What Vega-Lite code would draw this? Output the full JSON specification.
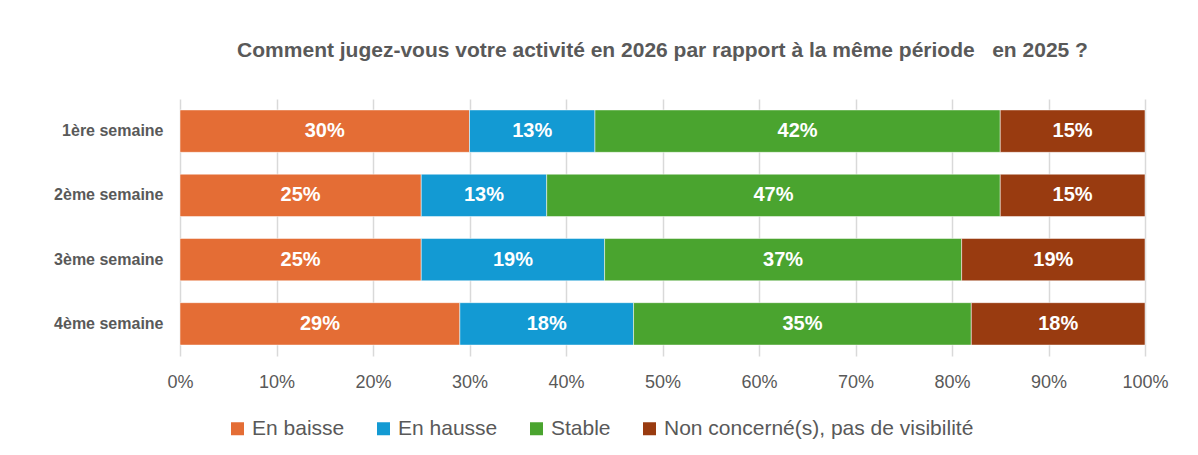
{
  "$schema": "https://vega.github.io/schema/vega-lite/v6.json",
  "autosize": "none",
  "width": 965,
  "height": 257,
  "padding": {"left": 180, "top": 99, "right": 53, "bottom": 99},
  "background": "white",
  "title": {
    "text": "Comment jugez-vous votre activité en 2026 par rapport à la même période\u00a0\u00a0\u00a0en 2025 ?",
    "fontSize": 21,
    "font": "Liberation Sans",
    "fontWeight": "bold",
    "color": "#595959",
    "anchor": "middle",
    "offset": 38
  },
  "data": {
    "values": [
      {"semaine": "1ère semaine", "reponse": "En baisse", "ordre": 1, "pct": 30},
      {"semaine": "1ère semaine", "reponse": "En hausse", "ordre": 2, "pct": 13},
      {"semaine": "1ère semaine", "reponse": "Stable", "ordre": 3, "pct": 42},
      {"semaine": "1ère semaine", "reponse": "Non concerné(s), pas de visibilité", "ordre": 4, "pct": 15},
      {"semaine": "2ème semaine", "reponse": "En baisse", "ordre": 1, "pct": 25},
      {"semaine": "2ème semaine", "reponse": "En hausse", "ordre": 2, "pct": 13},
      {"semaine": "2ème semaine", "reponse": "Stable", "ordre": 3, "pct": 47},
      {"semaine": "2ème semaine", "reponse": "Non concerné(s), pas de visibilité", "ordre": 4, "pct": 15},
      {"semaine": "3ème semaine", "reponse": "En baisse", "ordre": 1, "pct": 25},
      {"semaine": "3ème semaine", "reponse": "En hausse", "ordre": 2, "pct": 19},
      {"semaine": "3ème semaine", "reponse": "Stable", "ordre": 3, "pct": 37},
      {"semaine": "3ème semaine", "reponse": "Non concerné(s), pas de visibilité", "ordre": 4, "pct": 19},
      {"semaine": "4ème semaine", "reponse": "En baisse", "ordre": 1, "pct": 29},
      {"semaine": "4ème semaine", "reponse": "En hausse", "ordre": 2, "pct": 18},
      {"semaine": "4ème semaine", "reponse": "Stable", "ordre": 3, "pct": 35},
      {"semaine": "4ème semaine", "reponse": "Non concerné(s), pas de visibilité", "ordre": 4, "pct": 18}
    ]
  },
  "transform": [
    {"stack": "pct", "groupby": ["semaine"], "sort": [{"field": "ordre", "order": "ascending"}], "as": ["debut", "fin"]},
    {"calculate": "(datum.debut + datum.fin) / 2", "as": "milieu"},
    {"calculate": "datum.pct + '%'", "as": "etiquette"}
  ],
  "config": {
    "view": {"stroke": null},
    "font": "Liberation Sans"
  },
  "encoding": {
    "y": {
      "field": "semaine",
      "type": "nominal",
      "sort": ["1ère semaine", "2ème semaine", "3ème semaine", "4ème semaine"],
      "scale": {"paddingInner": 0.34, "paddingOuter": 0.17},
      "axis": {
        "title": null,
        "domain": false,
        "ticks": false,
        "labelFontSize": 16,
        "labelFontWeight": "bold",
        "labelColor": "#595959",
        "labelPadding": 17
      }
    }
  },
  "layer": [
    {
      "mark": {"type": "bar", "stroke": "white", "strokeWidth": 0.5},
      "encoding": {
        "x": {
          "field": "debut",
          "type": "quantitative",
          "scale": {"domain": [0, 100], "nice": false},
          "axis": {
            "title": null,
            "values": [0, 10, 20, 30, 40, 50, 60, 70, 80, 90, 100],
            "labelExpr": "datum.value + '%'",
            "labelFlush": false,
            "domain": false,
            "ticks": false,
            "grid": true,
            "gridColor": "#D9D9D9",
            "gridWidth": 1.5,
            "labelFontSize": 18,
            "labelColor": "#595959",
            "labelPadding": 17
          }
        },
        "x2": {"field": "fin"},
        "color": {
          "field": "reponse",
          "type": "nominal",
          "scale": {
            "domain": ["En baisse", "En hausse", "Stable", "Non concerné(s), pas de visibilité"],
            "range": ["#E46D35", "#139AD3", "#4AA42F", "#993B10"]
          },
          "legend": {
            "title": null,
            "orient": "none",
            "direction": "horizontal",
            "legendX": 47,
            "legendY": 319,
            "symbolType": "square",
            "symbolSize": 169,
            "symbolStrokeWidth": 0,
            "labelFontSize": 21,
            "labelColor": "#595959",
            "labelLimit": 500,
            "columnPadding": 28,
            "labelOffset": 4
          }
        }
      }
    },
    {
      "mark": {"type": "text", "color": "white", "fontSize": 20, "fontWeight": "bold", "baseline": "middle"},
      "encoding": {
        "x": {"field": "milieu", "type": "quantitative"},
        "text": {"field": "etiquette", "type": "nominal"},
        "detail": {"field": "reponse"}
      }
    }
  ]
}
